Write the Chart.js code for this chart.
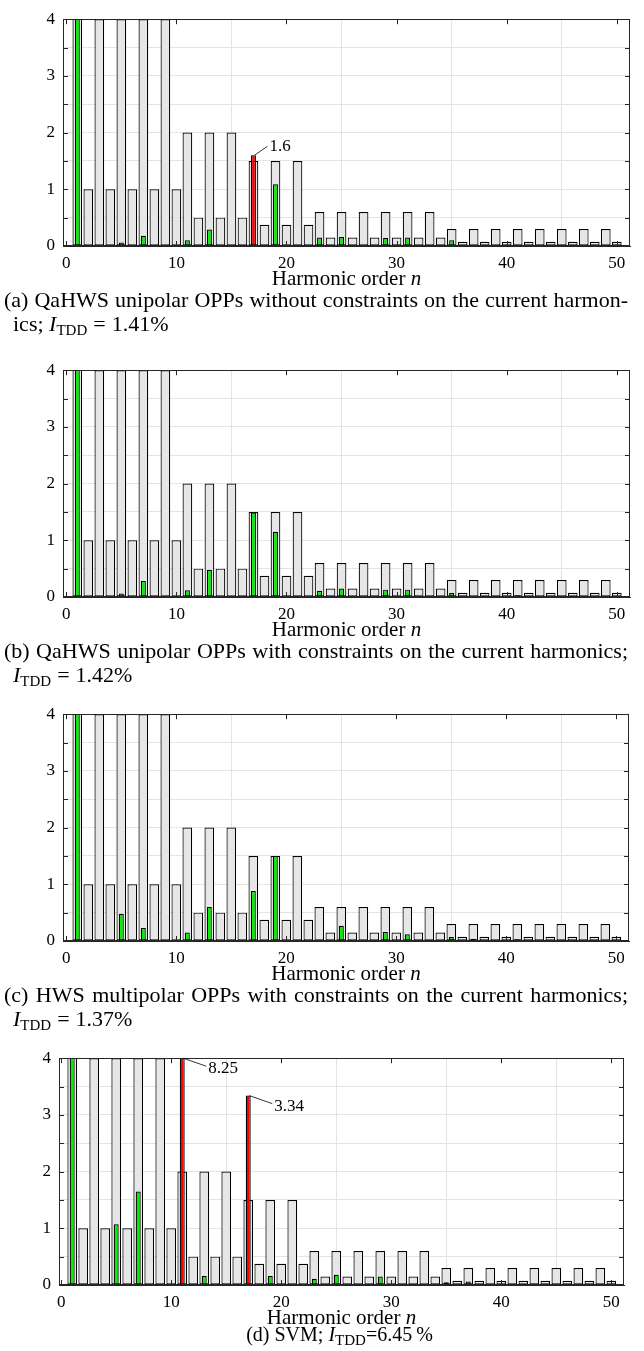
<!DOCTYPE html>
<html>
<head>
<meta charset="utf-8">
<script src="https://cdn.jsdelivr.net/npm/chart.js@4.4.1/dist/chart.umd.min.js"></script>
<style>
  html, body { margin: 0; padding: 0; background: #fff; }
  body { position: relative; width: 644px; height: 1351px; overflow: hidden;
         font-family: 'Liberation Serif', 'Times New Roman', serif; color: #000; }
  canvas { position: absolute; left: 0; }
  .xlabel { position: absolute; font-size: 21px; line-height: 20px; white-space: nowrap; transform: translateX(-50%); }
  .cap { position: absolute; font-size: 22px; line-height: 24px; white-space: nowrap; }
  .cap.just { text-align: justify; text-align-last: justify; white-space: normal; }
  .cap.center { transform: translateX(-50%); font-size: 20px; }
  .eq { padding: 0 6px; }
  sub { font-size: 15px; vertical-align: -4px; line-height: 0; }
</style>
</head>
<body>
<script>
// Harmonic orders on the x axis
const HARMONICS = [1, 2, 3, 4, 5, 6, 7, 8, 9, 10, 11, 12, 13, 14, 15, 16, 17, 18, 19, 20,
  21, 22, 23, 24, 25, 26, 27, 28, 29, 30, 31, 32, 33, 34, 35, 36, 37, 38, 39, 40,
  41, 42, 43, 44, 45, 46, 47, 48, 49, 50];

// Current harmonic limits in % (grey bars)
const LIMITS = [100, 1, 4, 1, 4, 1, 4, 1, 4, 1,
  2, 0.5, 2, 0.5, 2, 0.5, 1.5, 0.375, 1.5, 0.375,
  1.5, 0.375, 0.6, 0.15, 0.6, 0.15, 0.6, 0.15, 0.6, 0.15,
  0.6, 0.15, 0.6, 0.15, 0.3, 0.075, 0.3, 0.075, 0.3, 0.075,
  0.3, 0.075, 0.3, 0.075, 0.3, 0.075, 0.3, 0.075, 0.3, 0.075];

// Current harmonic amplitudes in % for each modulation scheme
const CURRENT_A = [100, 0, 0, 0, 0.06, 0, 0.18, 0, 0, 0,
  0.10, 0, 0.29, 0, 0, 0, 1.6, 0, 1.09, 0,
  0, 0, 0.15, 0, 0.16, 0, 0, 0, 0.14, 0,
  0.15, 0, 0, 0, 0.10, 0, 0, 0, 0, 0,
  0.02, 0, 0.01, 0, 0, 0, 0.005, 0, 0, 0];
const CURRENT_B = [100, 0, 0, 0, 0.06, 0, 0.28, 0, 0, 0,
  0.12, 0, 0.48, 0, 0, 0, 1.49, 0, 1.15, 0,
  0, 0, 0.11, 0, 0.15, 0, 0, 0, 0.13, 0,
  0.13, 0, 0, 0, 0.07, 0, 0.01, 0, 0, 0,
  0.03, 0, 0.01, 0, 0, 0, 0.01, 0, 0.005, 0];
const CURRENT_C = [100, 0, 0, 0, 0.48, 0, 0.23, 0, 0, 0,
  0.15, 0, 0.60, 0, 0, 0, 0.88, 0, 1.5, 0,
  0, 0, 0.02, 0, 0.27, 0, 0, 0, 0.16, 0,
  0.12, 0, 0, 0, 0.07, 0, 0.04, 0, 0, 0,
  0.03, 0, 0.01, 0, 0, 0, 0.01, 0, 0.01, 0];
const CURRENT_D = [100, 0, 0, 0, 1.07, 0, 1.65, 0, 0, 0,
  8.25, 0, 0.16, 0, 0, 0, 3.34, 0, 0.16, 0,
  0, 0, 0.11, 0, 0.18, 0, 0, 0, 0.15, 0,
  0.01, 0, 0, 0, 0.05, 0, 0.06, 0, 0, 0,
  0.02, 0, 0.02, 0, 0, 0, 0.02, 0, 0.01, 0];

// Harmonics whose value is written next to the bar
const LABELLED_A = [17];
const LABELLED_D = [11, 17];

// Axis ticks
const X_TICKS = [0, 10, 20, 30, 40, 50];
const Y_TICKS = [0, 0.5, 1, 1.5, 2, 2.5, 3, 3.5, 4];
const Y_MAX = 4;

// Captions
const CAPTIONS = [
  ['(a) QaHWS unipolar OPPs without constraints on the current harmon-', 'ics; <i>I</i><sub>TDD</sub><span class="eq">=</span>1.41%'],
  ['(b) QaHWS unipolar OPPs with constraints on the current harmonics;', '<i>I</i><sub>TDD</sub><span class="eq">=</span>1.42%'],
  ['(c) HWS multipolar OPPs with constraints on the current harmonics;', '<i>I</i><sub>TDD</sub><span class="eq">=</span>1.37%'],
  ['(d) SVM; <i>I</i><sub>TDD</sub>=6.45&#8201;%']
];

// Panel geometry (plot box in page pixels)
const PANELS = [
  { cur: CURRENT_A, labelled: LABELLED_A, top: 11, left: 63, right: 630, xmin: -0.3, xmax: 51.2, lead: [13, -9] },
  { cur: CURRENT_B, labelled: [], top: 362, left: 63, right: 630, xmin: -0.3, xmax: 51.2, lead: [0, 0] },
  { cur: CURRENT_C, labelled: [], top: 706, left: 63, right: 629, xmin: -0.3, xmax: 51.15, lead: [0, 0] },
  { cur: CURRENT_D, labelled: LABELLED_D, top: 1050, left: 59, right: 624, xmin: -0.2, xmax: 51.15, lead: [23, 8] }
];
const PLOT_H = 235;
const PAD_TOP = 10;
const XAXIS_H = 28;

const GREEN = '#00f000';
const RED = '#ff0000';
const GREY = '#e6e6e6';
const AXIS = '#262626';

// Box around the plot with inward tick marks on all four sides
const framePlugin = {
  id: 'frame',
  afterDatasetsDraw(chart) {
    const { ctx, chartArea: a, scales: { x, y } } = chart;
    ctx.save();
    ctx.strokeStyle = AXIS;
    ctx.lineWidth = 1;
    ctx.beginPath();
    for (const v of Y_TICKS) {
      const py = Math.round(y.getPixelForValue(v)) + 0.5;
      ctx.moveTo(a.left, py); ctx.lineTo(a.left + 5, py);
      ctx.moveTo(a.right, py); ctx.lineTo(a.right - 5, py);
    }
    for (const v of X_TICKS) {
      const px = Math.round(x.getPixelForValue(v)) + 0.5;
      ctx.moveTo(px, a.top); ctx.lineTo(px, a.top + 5);
      ctx.moveTo(px, a.bottom); ctx.lineTo(px, a.bottom - 5);
    }
    ctx.stroke();
    ctx.strokeRect(Math.round(a.left) + 0.5, Math.round(a.top) + 0.5,
                   Math.round(a.right) - Math.round(a.left) - 1, Math.round(a.bottom) - Math.round(a.top) - 1);
    ctx.restore();
  }
};

// Value labels with a short leader line for bars that exceed their limit
const valuePlugin = {
  id: 'values',
  afterDatasetsDraw(chart, args, opts) {
    const { ctx, scales: { x, y } } = chart;
    const p = opts.panel;
    ctx.save();
    ctx.strokeStyle = '#000';
    ctx.lineWidth = 0.8;
    ctx.fillStyle = '#000';
    ctx.font = '17px "Liberation Serif", serif';
    ctx.textBaseline = 'middle';
    ctx.textAlign = 'left';
    for (const n of p.labelled) {
      const v = p.cur[HARMONICS.indexOf(n)];
      const px = x.getPixelForValue(n) + 1;
      const py = y.getPixelForValue(Math.min(v, Y_MAX));
      const ex = px + p.lead[0], ey = py + p.lead[1];
      ctx.beginPath(); ctx.moveTo(px, py); ctx.lineTo(ex, ey); ctx.stroke();
      ctx.fillText(String(v), ex + 2, ey + (p.lead[1] > 0 ? 2.5 : 0));
    }
    ctx.restore();
  }
};

function addText(cls, html, left, top, width) {
  const d = document.createElement('div');
  d.className = cls;
  d.innerHTML = html;
  d.style.left = left + 'px';
  d.style.top = top + 'px';
  if (width) d.style.width = width + 'px';
  document.body.appendChild(d);
}

PANELS.forEach((p, k) => {
  const canvas = document.createElement('canvas');
  const h = PAD_TOP + PLOT_H + XAXIS_H;
  canvas.width = 644; canvas.height = h;
  canvas.style.width = '644px'; canvas.style.height = h + 'px';
  canvas.style.top = (p.top - PAD_TOP) + 'px';
  document.body.appendChild(canvas);

  const barColor = (c) => {
    const i = c.dataIndex;
    return p.cur[i] > LIMITS[i] ? RED : GREEN;
  };

  new Chart(canvas.getContext('2d'), {
    type: 'bar',
    data: {
      datasets: [
        {
          data: HARMONICS.map((n, i) => ({ x: n, y: p.cur[i] })),
          backgroundColor: barColor, borderColor: '#000', borderWidth: 1.2, borderSkipped: false,
          grouped: false, barPercentage: 0.45, categoryPercentage: 1, clip: 0
        },
        {
          data: HARMONICS.map((n, i) => ({ x: n, y: LIMITS[i] })),
          backgroundColor: GREY, borderColor: '#000', borderWidth: 1.2, borderSkipped: false,
          grouped: false, barPercentage: 0.88, categoryPercentage: 1, clip: 0
        }
      ]
    },
    options: {
      responsive: false, animation: false, devicePixelRatio: 1,
      layout: { padding: { top: PAD_TOP, left: 0, right: 644 - p.right, bottom: 0 } },
      plugins: { legend: { display: false }, tooltip: { enabled: false }, values: { panel: p } },
      scales: {
        x: {
          type: 'linear', min: p.xmin, max: p.xmax, offset: false,
          afterBuildTicks: (s) => { s.ticks = X_TICKS.map((v) => ({ value: v })); },
          afterFit: (s) => { s.height = XAXIS_H; },
          grid: { color: '#e4e4e4', drawTicks: false, lineWidth: 1 },
          border: { display: true, color: AXIS, width: 1 },
          ticks: { color: '#000', padding: 7, maxRotation: 0, autoSkip: false,
                   font: { family: "'Liberation Serif', serif", size: 17 } }
        },
        y: {
          min: 0, max: Y_MAX,
          afterBuildTicks: (s) => { s.ticks = Y_TICKS.map((v) => ({ value: v })); },
          afterFit: (s) => { s.width = p.left; },
          grid: { color: '#e4e4e4', drawTicks: false, lineWidth: 1 },
          border: { display: true, color: AXIS, width: 1 },
          ticks: { color: '#000', padding: 8,
                   callback: (v) => (Number.isInteger(v) ? String(v) : ''),
                   font: { family: "'Liberation Serif', serif", size: 17 } }
        }
      }
    },
    plugins: [framePlugin, valuePlugin]
  });

  const y0 = p.top + PLOT_H;
  const cx = (p.left + p.right) / 2;
  addText('xlabel', 'Harmonic order <i>n</i>', cx, y0 + 22);
  const cap = CAPTIONS[k];
  if (cap.length === 2) {
    addText('cap just', cap[0], 4, y0 + 42, 624);
    addText('cap', cap[1], 13, y0 + 66);
  } else {
    addText('cap center', cap[0], cx - 2, y0 + 37);
  }
});
</script>
</body>
</html>
